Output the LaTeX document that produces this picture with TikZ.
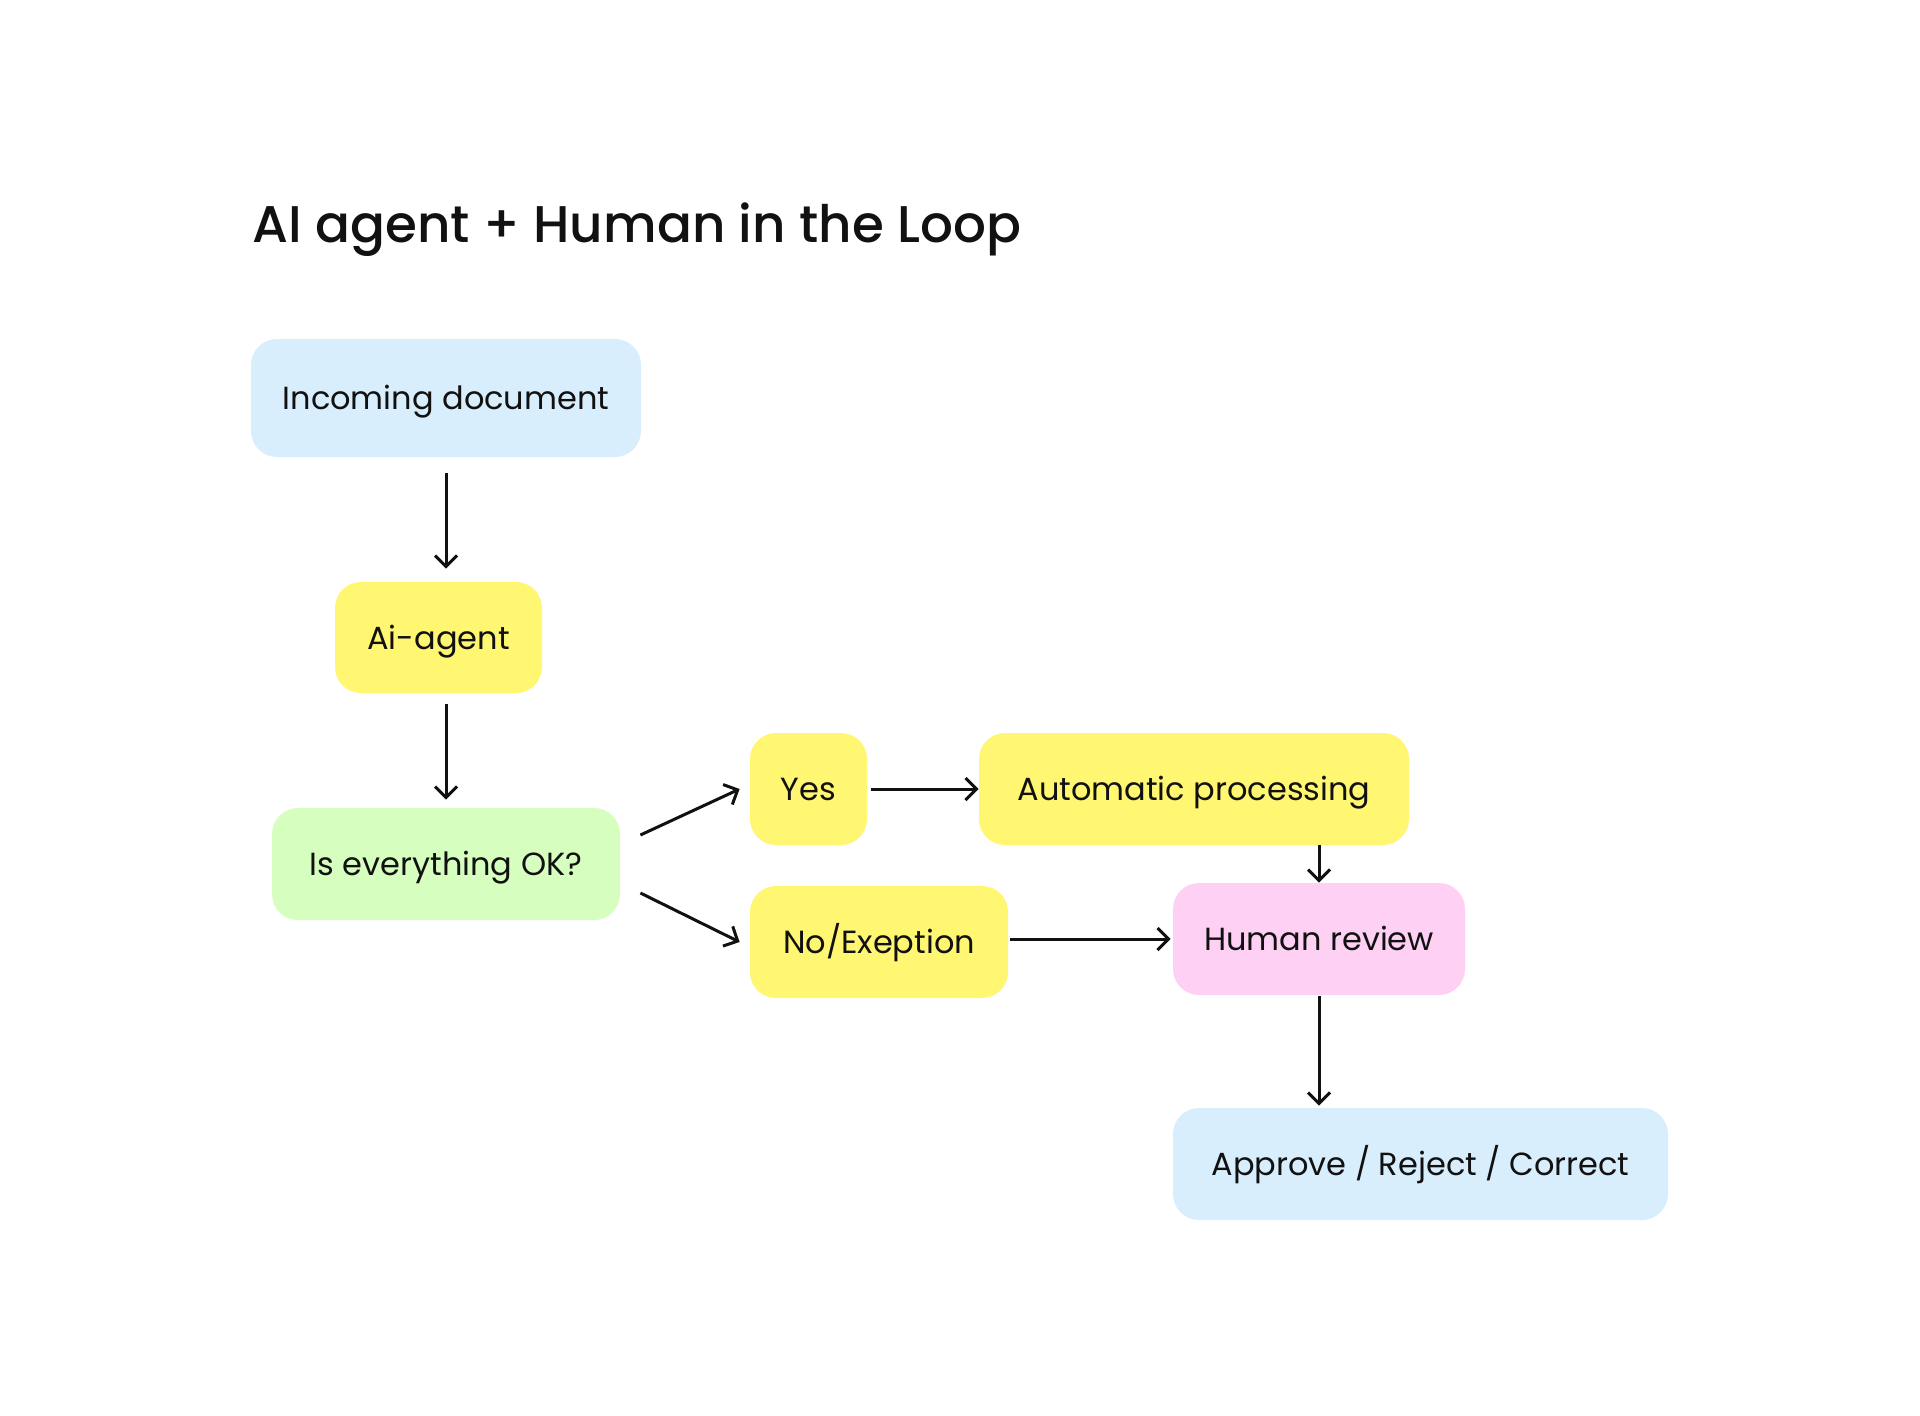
\documentclass[tikz,border=0pt]{standalone}
\usepackage{fontspec}
\setmainfont{Poppins}
\newfontfamily\titlefont{Poppins Medium}
\usetikzlibrary{arrows.meta,calc}
\definecolor{cblue}{HTML}{D8EEFD}
\definecolor{cyellow}{HTML}{FFF671}
\definecolor{cgreen}{HTML}{D6FEBE}
\definecolor{cpink}{HTML}{FED0F4}
\definecolor{ink}{HTML}{111111}
\tikzset{
  box/.style={rounded corners=13pt, inner sep=0pt, text=ink, font=\fontsize{16pt}{19pt}\selectfont, text height=11.5pt, text depth=0pt, anchor=center},
  conn/.style={draw=ink, line width=1.5pt, -{Straight Barb[length=5.5pt,width=11pt,line width=1.5pt]}},
}
\newcommand{\bx}[7]{\node[box, fill=#2, minimum width=#5*0.5pt, minimum height=#6*0.5pt] (#1) at (#3,#4) {#7};}
\begin{document}
\begin{tikzpicture}[x=0.5pt,y=-0.5pt]
\useasboundingbox (0,0) rectangle (1920,1415);
\fill[white] (0,0) rectangle (1920,1415);
\node[anchor=base west, inner sep=0pt, text=ink, font=\titlefont\fontsize{25.8pt}{29pt}\selectfont] (title) at (252,242) {AI agent + Human in the Loop};
\bx{inc}{cblue}{446}{398}{390}{118}{Incoming document}
\bx{ai}{cyellow}{438.5}{637.5}{207}{111}{Ai-agent}
\bx{ok}{cgreen}{446}{864}{348}{112}{Is everything OK?}
\bx{yes}{cyellow}{808.5}{789}{117}{112}{Yes}
\bx{auto}{cyellow}{1194}{789}{430}{112}{Automatic processing}
\bx{no}{cyellow}{879}{942}{258}{112}{No/Exeption}
\bx{human}{cpink}{1319}{939}{292}{112}{Human review}
\bx{appr}{cblue}{1420.5}{1164}{495}{112}{Approve / Reject / Correct}
\draw[conn, shorten <=8pt, shorten >=6.5pt] (inc.south) -- (inc.south |- ai.north);
\draw[conn, shorten <=5.5pt, shorten >=4pt] (inc.south |- ai.south) -- (ok.north);
\draw[conn] ([xshift=10pt,yshift=14.5pt]ok.east) -- ([xshift=-5pt]yes.west);
\draw[conn] ([xshift=10pt,yshift=-14.5pt]ok.east) -- ([xshift=-5pt]no.west);
\draw[conn, shorten <=2pt] (yes.east) -- (auto.west);
\draw[conn, shorten <=1pt, shorten >=1pt] (no.east |- human.west) -- (human.west);
\draw[conn] (auto.south -| human.north) -- (human.north);
\draw[conn, shorten <=0.5pt, shorten >=1pt] (human.south) -- (human.south |- appr.north);
\end{tikzpicture}
\end{document}
